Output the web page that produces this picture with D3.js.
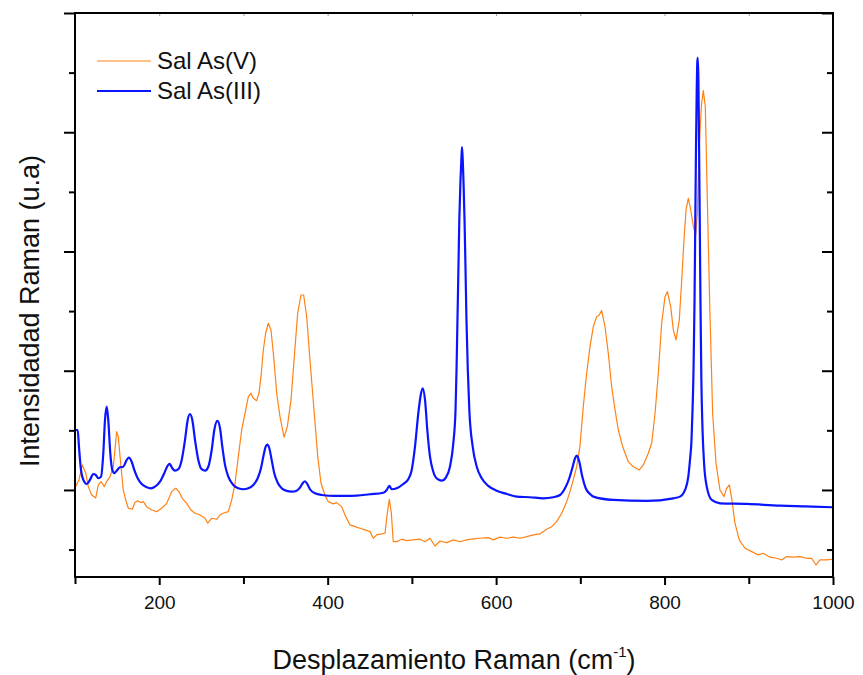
<!DOCTYPE html>
<html>
<head>
<meta charset="utf-8">
<script src="https://cdn.jsdelivr.net/npm/d3@7"></script>
<style>
  html, body { margin: 0; padding: 0; background: #fff; }
  svg { display: block; font-family: "Liberation Sans", Arial, sans-serif; }
</style>
</head>
<body>
<svg id="chart" width="863" height="675"></svg>
<script>
// Raman shift (cm-1) and intensity (arbitrary units) for each salt
const seriesNames = ["Sal As(V)", "Sal As(III)"];
const seriesColors = ["#ff8214", "#0a14ff"];

const asV_shift = [100,104.7,108.7,112.7,115.8,119.8,124.6,127.7,130.9,134.8,137.6,141.6,145.5,149.5,151.4,154.6,157.3,160.2,163.3,168,171.2,174.4,178.4,181.1,185.1,191.1,197,202.9,208.9,214.8,219.6,223.5,227.4,232.6,237.7,242.5,248.4,254.4,257.6,262.3,268.2,272.2,276.1,282,286.1,290,293.9,297.9,301.9,305.8,309,311.7,315.7,318.5,320.8,323.6,326.4,329.5,332.7,335.9,339.5,343.4,348.2,352.1,356.5,360.4,364.4,368.3,371.5,375.1,379,384.1,388.2,392.1,396.8,400.7,406.7,410.7,416.6,420.6,426.5,432.5,438.4,444.3,450.3,454.2,458.2,464.2,468.1,470.8,473.2,475.6,477.9,481.9,487.9,493.8,501.7,509.6,515.6,521.5,527.4,533.4,541.3,549.2,557.1,565.1,572.9,580.9,590.7,596.6,604.6,612.6,620.4,628.4,636.3,644.2,652.1,660,666,671.9,677.9,683.8,687.7,691.6,695.7,699.6,703.5,707.5,711.5,715.4,719.3,722.5,725.3,729.3,733.2,737.2,741.2,745.1,750.3,756.9,762.9,770,774.8,780.7,784.7,788.7,792.6,796.6,800.5,803.3,807.3,810.4,813.6,817.5,820.4,823.1,825.5,828.2,831.1,834.2,837,838.9,841.2,843.6,846,848.4,850.7,853.9,857.1,861.1,865.8,870.6,873.7,876.9,880,883.6,888.7,895.5,903.5,911.3,917.2,925.2,933.1,939,945,952.8,960.8,968.7,974.6,979.8,984.6,992.5,1000];
const asV_intensity = [1017,1084,1210,1143,1028,958,933,1042,1070,1028,1070,1112,1195,1489,1447,1195,1000,916,847,838,894,910,894,902,860,832,818,847,888,986,1014,986,930,888,832,805,790,763,721,763,754,790,805,818,916,1056,1279,1503,1643,1782,1811,1769,1749,1811,1950,2174,2314,2398,2342,2118,1811,1615,1442,1531,1755,2118,2482,2635,2635,2453,2090,1643,1279,1056,958,902,883,894,860,790,707,692,679,665,650,595,623,631,637,805,922,805,566,566,587,575,581,587,566,595,530,572,558,581,566,581,589,595,600,581,604,595,604,595,608,623,631,670,692,734,805,902,986,1084,1195,1369,1699,1979,2202,2369,2453,2468,2504,2369,2146,1866,1671,1503,1363,1237,1195,1168,1210,1308,1392,1643,1979,2398,2621,2663,2537,2342,2258,2426,2761,3096,3348,3446,3348,3208,3138,3320,3879,4214,4349,4214,3459,2482,1643,1224,1000,944,1014,1042,916,721,581,511,483,455,469,436,427,413,441,436,441,427,427,371,413,413,419];

const asIII_shift = [100,103.2,104.7,107.1,109.9,113.9,117.8,121.7,124.6,127.7,130.9,133.6,135.6,137.6,139.5,141.9,144.3,146.7,149.5,153.4,157.3,161.4,164.1,167.3,170.4,174.4,179.2,185.1,190.2,195,200.9,206,210.1,212.4,215.5,218.7,222.7,226.7,230.6,233.8,236.5,239.3,242.5,246.4,250.4,254.4,258.3,262.3,265.4,269,272.2,274.9,278.1,282,288,293.9,299.8,305.8,311.7,316.9,320.8,324,326.4,328.3,330.7,333.5,336.6,340.7,345.4,351.3,357.3,363.2,367.1,370.3,373.1,375.8,379,385,392.9,408.7,426.5,450.3,466.1,470.1,473.2,476,482,489.8,495.7,499.8,503.7,507.6,510.5,512.8,515.6,518.3,521.5,525.4,530.2,535.4,540.5,545.2,549.2,551.8,553,553.9,555,556.3,557.7,558.7,559.5,560.4,561.4,562.5,563.7,564.8,566.4,568.2,572.2,577,582.9,590.7,600.7,612.6,624.4,640.2,656,667.9,675.9,681.8,686.9,690.9,693.7,696,698.8,702.3,706.4,711.5,715.4,739.1,778.8,810.4,818.3,824.3,828.2,830.2,832,833.2,834.4,835.6,836.5,837.3,838.2,838.9,839.5,840.2,840.9,841.8,842.6,843.7,845.1,846.9,850.1,856,865.9,897.6,937.1,968,1000];
const asIII_intensity = [1503,1503,1363,1168,1084,1050,1084,1134,1126,1098,1112,1308,1587,1699,1587,1308,1168,1140,1162,1190,1195,1252,1271,1237,1168,1098,1050,1023,1014,1028,1070,1140,1204,1218,1182,1162,1174,1252,1419,1587,1637,1587,1419,1252,1174,1162,1195,1335,1503,1579,1517,1363,1210,1112,1042,1014,1006,1014,1042,1098,1182,1294,1363,1380,1350,1252,1140,1061,1014,992,986,994,1019,1056,1073,1050,1006,972,958,950,950,964,977,1000,1034,1006,1014,1050,1090,1168,1363,1643,1797,1853,1755,1503,1279,1153,1092,1078,1106,1195,1392,1671,2006,2342,2761,3264,3600,3767,3876,3767,3558,3264,2845,2426,2006,1671,1363,1195,1098,1034,994,966,944,939,930,939,958,1014,1098,1195,1266,1288,1237,1112,1014,966,944,916,908,930,944,1000,1112,1252,1419,1671,2006,2593,3264,3851,4354,4589,4623,4438,3935,3264,2593,1922,1503,1224,1028,916,888,883,868,862,855];

// Axis ticks
const xMajorTicks = [200, 400, 600, 800, 1000];
const xMinorTicks = [100, 300, 500, 700, 900];
const xTickLabels = ["200", "400", "600", "800", "1000"];
const yMajorTicks = [1000, 2000, 3000, 4000, 5000];
const yMinorTicks = [500, 1500, 2500, 3500, 4500];

const xLabel = "Desplazamiento Raman (cm";
const yLabel = "Intensidadad Raman (u.a)";

const plot = { left: 75, right: 833, top: 13, bottom: 577 };

const svg = d3.select("#chart");
const x = d3.scaleLinear().domain([100, 1000]).range([plot.left, plot.right]);
const y = d3.scaleLinear().domain([270, 5000]).range([plot.bottom, plot.top]);

svg.append("defs").append("clipPath").attr("id", "plotClip")
  .append("rect")
  .attr("x", plot.left).attr("y", plot.top)
  .attr("width", plot.right - plot.left).attr("height", plot.bottom - plot.top);

const lineLinear = d3.line().x(d => x(d[0])).y(d => y(d[1]));
const lineSmooth = d3.line().x(d => x(d[0])).y(d => y(d[1])).curve(d3.curveMonotoneX);

const asV = d3.zip(asV_shift, asV_intensity);
const asIII = d3.zip(asIII_shift, asIII_intensity);

const gLines = svg.append("g").attr("clip-path", "url(#plotClip)");
gLines.append("path").datum(asV)
  .attr("d", lineLinear)
  .attr("fill", "none").attr("stroke", seriesColors[0])
  .attr("stroke-width", 1.2).attr("stroke-linejoin", "round");
gLines.append("path").datum(asIII)
  .attr("d", lineSmooth)
  .attr("fill", "none").attr("stroke", seriesColors[1])
  .attr("stroke-width", 2.2).attr("stroke-linejoin", "round");

// Axes
const axisColor = "#000";
const bottomMajor = d3.axisBottom(x).tickValues(xMajorTicks).tickSize(8).tickPadding(11)
  .tickFormat((d, i) => xTickLabels[i]);
const bottomMinor = d3.axisBottom(x).tickValues(xMinorTicks).tickSize(7).tickFormat("");
const gxMinor = svg.append("g").attr("transform", `translate(0,${plot.bottom})`).call(bottomMinor);
const gx = svg.append("g").attr("transform", `translate(0,${plot.bottom})`).call(bottomMajor);
[gx, gxMinor].forEach(g => {
  g.select(".domain").remove();
  g.selectAll(".tick line").attr("stroke", axisColor).attr("stroke-width", 2);
});
gx.selectAll(".tick text")
  .attr("font-size", 19).attr("fill", "#111")
  .attr("font-family", "'Liberation Sans', Arial, sans-serif");

const topTicks = d3.axisTop(x).tickValues(xMajorTicks.concat(xMinorTicks)).tickSize(-3).tickFormat("");
const gTop = svg.append("g").attr("transform", `translate(0,${plot.top})`).call(topTicks);
gTop.select(".domain").remove();
gTop.selectAll(".tick line").attr("stroke", "#999").attr("stroke-width", 1);

const leftMajor = d3.axisLeft(y).tickValues(yMajorTicks).tickSize(11).tickFormat("");
const leftMinor = d3.axisLeft(y).tickValues(yMinorTicks).tickSize(6).tickFormat("");
const rightMajor = d3.axisRight(y).tickValues(yMajorTicks).tickSize(-11).tickFormat("");
const rightMinor = d3.axisRight(y).tickValues(yMinorTicks).tickSize(-6).tickFormat("");
[[leftMajor, plot.left], [leftMinor, plot.left], [rightMajor, plot.right], [rightMinor, plot.right]].forEach(([ax, px]) => {
  const g = svg.append("g").attr("transform", `translate(${px},0)`).call(ax);
  g.select(".domain").remove();
  g.selectAll(".tick line").attr("stroke", axisColor).attr("stroke-width", 2);
});

// Frame
svg.append("rect")
  .attr("x", plot.left).attr("y", plot.top)
  .attr("width", plot.right - plot.left).attr("height", plot.bottom - plot.top)
  .attr("fill", "none").attr("stroke", axisColor).attr("stroke-width", 2);

// Axis titles
const xt = svg.append("text")
  .attr("x", (plot.left + plot.right) / 2).attr("y", 669)
  .attr("text-anchor", "middle").attr("font-size", 27).attr("fill", "#111");
xt.append("tspan").text(xLabel);
xt.append("tspan").attr("font-size", 15).attr("dy", -12).text("-1");
xt.append("tspan").attr("dy", 12).text(")");

svg.append("text")
  .attr("transform", `translate(39,${(plot.top + plot.bottom) / 2 + 16}) rotate(-90)`)
  .attr("text-anchor", "middle").attr("font-size", 27).attr("fill", "#111")
  .text(yLabel);

// Legend
const legend = svg.append("g");
seriesNames.forEach((name, i) => {
  const ly = 61 + i * 30;
  legend.append("line")
    .attr("x1", 97).attr("x2", 151).attr("y1", ly).attr("y2", ly)
    .attr("stroke", seriesColors[i]).attr("stroke-width", i === 0 ? 1.2 : 2.2);
  legend.append("text")
    .attr("x", 157).attr("y", ly + 8)
    .attr("font-size", 24).attr("fill", "#111")
    .text(name);
});
</script>
</body>
</html>
